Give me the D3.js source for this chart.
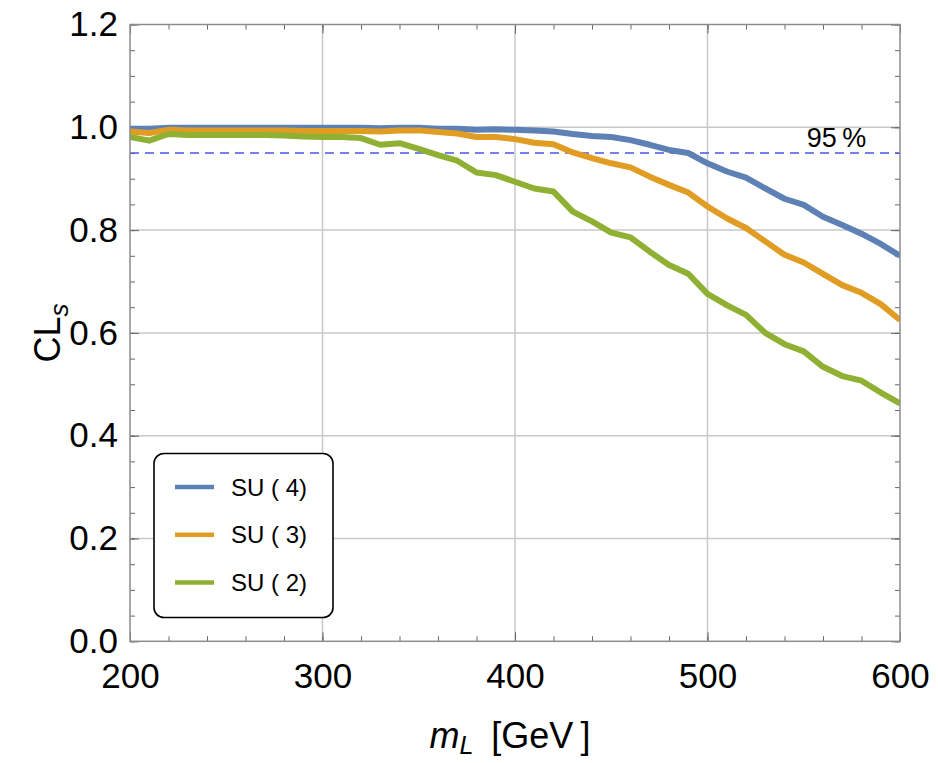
<!DOCTYPE html>
<html lang="en">
<head>
    <meta charset="UTF-8">
    <title>CLs vs mL</title>
    <style>
        body { margin: 0; background: #fff; }
        text { font-family: "Liberation Sans", Arial, sans-serif; fill: #000; }
    </style>
</head>
<body>
<script src="https://d3js.org/d3.v7.min.js"></script>
<script>

    let w = 938, h = 763;
    let inner = {top: 24.5, right: 38, bottom: 121.7, left: 130};

    // mass points (GeV)
    let mass = [200, 210, 220, 230, 240, 250, 260, 270, 280, 290, 300,
        310, 320, 330, 340, 350, 360, 370, 380, 390, 400,
        410, 420, 430, 440, 450, 460, 470, 480, 490, 500,
        510, 520, 530, 540, 550, 560, 570, 580, 590, 600];

    let su4 = [0.997, 0.997, 0.999, 0.999, 0.999, 0.999, 0.999, 0.999, 0.999, 0.999, 0.999,
        0.999, 0.999, 0.998, 0.999, 0.999, 0.997, 0.997, 0.995, 0.996, 0.995,
        0.994, 0.992, 0.987, 0.983, 0.981, 0.975, 0.966, 0.956, 0.950, 0.930,
        0.914, 0.902, 0.881, 0.861, 0.849, 0.826, 0.810, 0.793, 0.773, 0.750];

    let su3 = [0.992, 0.989, 0.995, 0.994, 0.994, 0.994, 0.994, 0.994, 0.994, 0.993, 0.993,
        0.993, 0.993, 0.992, 0.994, 0.994, 0.991, 0.988, 0.981, 0.981, 0.977,
        0.970, 0.967, 0.951, 0.940, 0.930, 0.922, 0.904, 0.888, 0.873, 0.846,
        0.823, 0.804, 0.778, 0.752, 0.737, 0.715, 0.693, 0.678, 0.656, 0.625];

    let su2 = [0.981, 0.974, 0.987, 0.985, 0.985, 0.985, 0.985, 0.985, 0.984, 0.982, 0.981,
        0.981, 0.979, 0.966, 0.969, 0.958, 0.946, 0.935, 0.912, 0.907, 0.894,
        0.881, 0.875, 0.836, 0.817, 0.795, 0.786, 0.758, 0.732, 0.715, 0.676,
        0.654, 0.635, 0.600, 0.578, 0.564, 0.534, 0.516, 0.507, 0.484, 0.463];

    let seriesNames = ["SU ( 4)", "SU ( 3)", "SU ( 2)"];
    let seriesData = [su4, su3, su2];
    let colors = ["#5e81b5", "#e19c24", "#8fb032"];

    let xMajor = [200, 300, 400, 500, 600];
    let yMajor = [0.0, 0.2, 0.4, 0.6, 0.8, 1.0, 1.2];
    let limitLevel = 0.95;

    let W = w - inner.left - inner.right;
    let H = h - inner.top - inner.bottom;

    let svg = d3.select("body")
        .append("svg")
        .attr("width", w)
        .attr("height", h);

    let g = svg.append("g")
        .attr("transform", "translate(" + inner.left + "," + inner.top + ")");

    let xScale = d3.scaleLinear().domain([200, 600]).range([0, W]);
    let yScale = d3.scaleLinear().domain([0, 1.2]).range([H, 0]);

    // 网格线
    g.append("g")
        .selectAll("line")
        .data(xMajor.slice(1, -1))
        .enter()
        .append("line")
        .attr("x1", d => xScale(d)).attr("x2", d => xScale(d))
        .attr("y1", 0).attr("y2", H)
        .attr("stroke", "#c8c8c8")
        .attr("stroke-width", 1.5);

    g.append("g")
        .selectAll("line")
        .data(yMajor.slice(1, -1))
        .enter()
        .append("line")
        .attr("x1", 0).attr("x2", W)
        .attr("y1", d => yScale(d)).attr("y2", d => yScale(d))
        .attr("stroke", "#c8c8c8")
        .attr("stroke-width", 1.5);

    // 刻度 (四边, 朝内)
    let xMinor = xScale.ticks(20);
    let yMinor = yScale.ticks(24);

    function styleAxis(sel) {
        sel.select(".domain").remove();
        sel.selectAll(".tick line").attr("stroke", "#666").attr("stroke-width", 1);
        sel.selectAll("text")
            .style("font-family", '"Liberation Sans", Arial, sans-serif')
            .style("font-size", "35px")
            .attr("fill", "#000");
    }

    let axes = [
        {ax: d3.axisBottom(xScale), t: "translate(0," + H + ")", minor: xMinor},
        {ax: d3.axisTop(xScale), t: "translate(0,0)", minor: xMinor},
        {ax: d3.axisLeft(yScale), t: "translate(0,0)", minor: yMinor},
        {ax: d3.axisRight(yScale), t: "translate(" + W + ",0)", minor: yMinor}
    ];
    axes.forEach(function (a) {
        g.append("g")
            .attr("transform", a.t)
            .call(a.ax.tickValues(a.minor).tickSize(-5).tickFormat(""))
            .call(styleAxis);
    });

    g.append("g")
        .attr("transform", "translate(0," + H + ")")
        .call(d3.axisBottom(xScale).tickValues(xMajor).tickSize(-9).tickPadding(22).tickFormat(d3.format("d")))
        .call(styleAxis);

    g.append("g")
        .call(d3.axisLeft(yScale).tickValues(yMajor).tickSize(-9).tickPadding(12).tickFormat(d3.format(".1f")))
        .call(styleAxis);

    g.append("g").attr("transform", "translate(0,0)")
        .call(d3.axisTop(xScale).tickValues(xMajor).tickSize(-9).tickFormat(""))
        .call(styleAxis);
    g.append("g").attr("transform", "translate(" + W + ",0)")
        .call(d3.axisRight(yScale).tickValues(yMajor).tickSize(-9).tickFormat(""))
        .call(styleAxis);

    // 95% 参考线
    g.append("line")
        .attr("x1", 0).attr("x2", W)
        .attr("y1", yScale(limitLevel)).attr("y2", yScale(limitLevel))
        .attr("stroke", "#4a55ee")
        .attr("stroke-width", 1.3)
        .attr("stroke-dasharray", "9,6");

    g.append("text")
        .attr("x", xScale(567))
        .attr("y", yScale(limitLevel) - 6)
        .attr("text-anchor", "middle")
        .style("font-size", "27px")
        .text("95\u2009%");

    // 曲线
    svg.append("defs").append("clipPath").attr("id", "plotClip")
        .append("rect").attr("x", 0).attr("y", 0).attr("width", W).attr("height", H);

    let line = d3.line()
        .x((d, i) => xScale(mass[i]))
        .y(d => yScale(d));

    let curves = g.append("g").attr("clip-path", "url(#plotClip)");
    seriesData.forEach(function (s, i) {
        curves.append("path")
            .attr("d", line(s))
            .attr("fill", "none")
            .attr("stroke", colors[i])
            .attr("stroke-width", 6)
            .attr("stroke-linejoin", "round");
    });

    // 边框
    g.append("rect")
        .attr("x", 0).attr("y", 0)
        .attr("width", W).attr("height", H)
        .attr("fill", "none")
        .attr("stroke", "#8c8c8c")
        .attr("stroke-width", 1.5);

    // 图例
    let legend = svg.append("g");
    legend.append("rect")
        .attr("x", 154).attr("y", 453.5)
        .attr("width", 179).attr("height", 164)
        .attr("rx", 10).attr("ry", 10)
        .attr("fill", "#fff")
        .attr("stroke", "#000")
        .attr("stroke-width", 1.6);

    seriesNames.forEach(function (name, i) {
        let y0 = 487 + i * 47.8;
        legend.append("line")
            .attr("x1", 175).attr("x2", 214)
            .attr("y1", y0).attr("y2", y0)
            .attr("stroke", colors[i])
            .attr("stroke-width", 4.5);
        legend.append("text")
            .attr("x", 231)
            .attr("y", y0 + 8.5)
            .style("font-size", "24px")
            .text(name);
    });

    // 轴标题
    let xt = svg.append("text")
        .attr("x", 510)
        .attr("y", 748)
        .attr("text-anchor", "middle")
        .style("font-size", "36px");
    xt.append("tspan").style("font-style", "italic").text("m");
    xt.append("tspan").style("font-style", "italic").style("font-size", "25px").attr("dy", 6).text("L");
    xt.append("tspan").attr("dy", -6).text("\u2002[GeV\u2009]");

    let yt = svg.append("text")
        .attr("transform", "translate(60,333) rotate(-90)")
        .attr("text-anchor", "middle")
        .style("font-size", "36px");
    yt.append("tspan").text("CL");
    yt.append("tspan").style("font-style", "italic").style("font-size", "26px").attr("dy", 8).text("s");

</script>
</body>
</html>
